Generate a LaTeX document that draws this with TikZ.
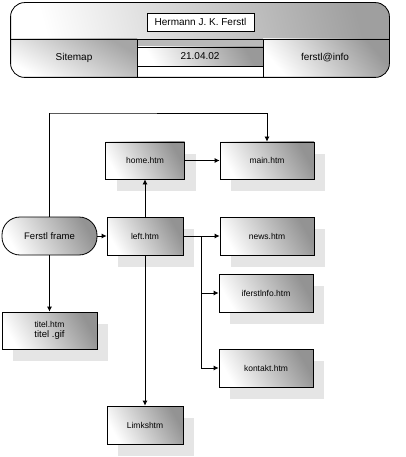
\documentclass[tikz,border=0pt]{standalone}
\usepackage{fontspec}
\setmainfont{Liberation Sans}
\usetikzlibrary{arrows.meta,shadows}
\begin{document}
\begin{tikzpicture}[x=1pt,y=1pt,line width=0.8pt,
  grad/.style={shading=axis,top color=gray!85,middle color=gray!25,bottom color=white,shading angle=-60},
  pagebox/.style={draw,rectangle,grad,minimum width=#1,minimum height=38pt,inner sep=0pt,
    font=\fontsize{8.5}{9}\selectfont,
    drop shadow={shadow xshift=11pt,shadow yshift=-12pt,fill=black!10,opacity=1}},
  conn/.style={-{Latex[length=5pt,width=5pt]}},
  hdrtext/.style={font=\fontsize{10}{11}\selectfont,inner sep=0pt}]
\useasboundingbox (0,0) rectangle (406,-457);
% ---------- header ----------
\node[draw,rounded corners=14pt,minimum width=378pt,minimum height=74pt,inner sep=0pt] (hdr) at (200,-40) {};
\begin{scope}
  \clip[rounded corners=14pt] (hdr.north west) rectangle (hdr.south east);
  \shade[shading=axis,top color=gray!75,middle color=gray!15,bottom color=white,shading angle=-75] (11,-3) rectangle (389,-39);
  \shade[shading=axis,top color=gray!70,middle color=gray!25,bottom color=white,shading angle=-30] (11,-39) rectangle (137,-77);
  \fill[gray!55] (137,-39) rectangle (263,-47);
  \shade[shading=axis,top color=gray!80,middle color=gray!25,bottom color=white,shading angle=-60] (137,-47) rectangle (263,-66);
  \fill[white] (137,-66) rectangle (263,-77);
  \shade[shading=axis,top color=gray!80,middle color=gray!25,bottom color=white,shading angle=-50] (263,-39) rectangle (389,-77);
\end{scope}
\draw[rounded corners=14pt] (hdr.north west) rectangle (hdr.south east);
\coordinate (dl) at (11,-39);
\coordinate (dr) at (389,-39);
\draw (dl) -- (dr);
\draw (137,-39) -- (137,-77) (263,-39) -- (263,-77);
\draw (137,-47) -- (263,-47) (137,-66) -- (263,-66);
\node[draw,fill=white,minimum width=107pt,minimum height=18pt,inner sep=0pt,hdrtext] (title) at (200.5,-22) {Hermann J. K. Ferstl};
\node[hdrtext] (site) at (74,-58) {Sitemap};
\node[hdrtext] (date) at (200,-56.5) {21.04.02};
\node[hdrtext] (mail) at (325,-58) {ferstl@info};
% ---------- diagram ----------
\node[pagebox=79pt,minimum height=37pt] (home) at (145,-160.5) {home.htm};
\node[pagebox=94pt,minimum height=37pt] (main) at (267,-160.5) {main.htm};
\node[draw,rounded corners=18pt,grad,minimum width=95pt,minimum height=38pt,inner sep=0pt,
  font=\fontsize{9.5}{10}\selectfont] (frame) at (49.5,-236) {Ferstl frame};
\node[pagebox=76pt] (left) at (145,-236) {left.htm};
\node[pagebox=94pt] (news) at (267,-236) {news.htm};
\node[pagebox=94pt] (ifer) at (266,-293) {iferstlnfo.htm};
\node[pagebox=94pt] (kont) at (266,-368) {kontakt.htm};
\node[pagebox=95pt,minimum height=37pt,align=center] (titel) at (49.5,-330.5)
  {titel.htm\\[1pt]{\fontsize{9.5}{10}\selectfont titel .gif}};
\node[pagebox=76pt] (limk) at (145,-425) {Limkshtm};
% connectors
\draw[conn] (frame.north) |- (49,-113) -| (main.north);
\draw[conn] (frame.south) -- (titel.north);
\draw[conn] (frame.east) -- (left.west);
\draw[conn] (left.north) -- (home.south);
\draw[conn] (home.east) -- (main.west);
\draw[conn] (left.east) -- (news.west);
\coordinate (br) at (201,-236);
\draw (br) -- (201,-368);
\draw[conn] (201,-293) -- (ifer.west);
\draw[conn] (201,-368) -- (kont.west);
\draw[conn] (left.south) -- (limk.north);
\end{tikzpicture}
\end{document}
